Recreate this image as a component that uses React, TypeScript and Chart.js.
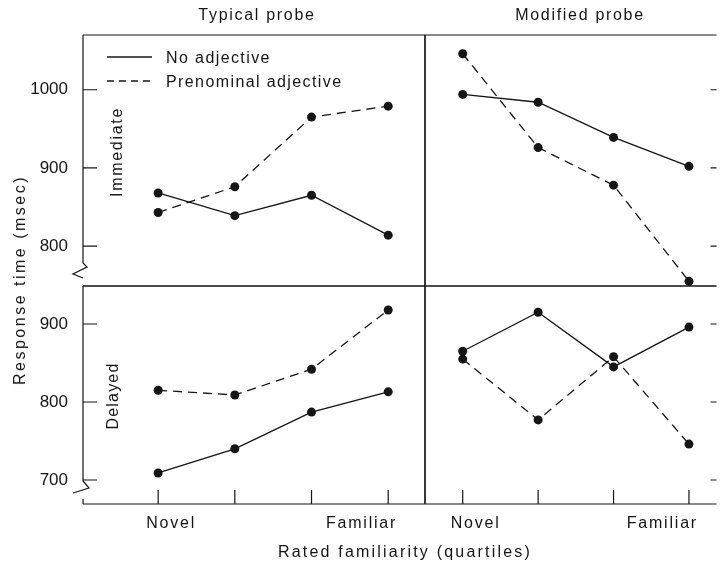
import React, { useEffect, useRef } from 'react';
import { Chart, registerables } from 'chart.js';

Chart.register(...registerables);

const W = 721;
const H = 563;

// ---- data ----
const quartiles = [0, 1, 2, 3];
const quartileLabels = ['Novel', '', '', 'Familiar'];
const seriesLabels = ['No adjective', 'Prenominal adjective'];
const panelTitles = ['Typical probe', 'Modified probe'];
const rowLabels = ['Immediate', 'Delayed'];
const yAxisTitle = 'Response time (msec)';
const xAxisTitle = 'Rated familiarity (quartiles)';
const immediateTicks = [800, 900, 1000];
const delayedTicks = [700, 800, 900];

const immediateTypicalNoAdj = [868, 839, 865, 814];
const immediateTypicalAdj = [843, 876, 965, 979];
const immediateModifiedNoAdj = [994, 984, 939, 902];
const immediateModifiedAdj = [1046, 926, 878, 755];
const delayedTypicalNoAdj = [709, 740, 787, 813];
const delayedTypicalAdj = [815, 809, 842, 918];
const delayedModifiedNoAdj = [865, 915, 845, 896];
const delayedModifiedAdj = [855, 777, 858, 746];

// ---- styling / layout ----
const FONT = '"Liberation Sans", Arial, sans-serif';
const INK = '#151515';
const DASH = [9, 6];

type Panel = {
  key: string;
  box: { left: number; top: number; right: number; bottom: number };
  xRange: [number, number];
  yRange: [number, number];
  ticks: number[];
  noAdj: number[];
  adj: number[];
  yLabels: boolean;
  side: 'left' | 'right';
  xAxis: boolean;
  legend: boolean;
  brk: 'upper' | 'lower' | null;
  rightBorder: boolean;
};

const panels: Panel[] = [
  {
    key: 'it', box: { left: 83, top: 35, right: 425, bottom: 286 },
    xRange: [-0.98, 3.48], yRange: [749, 1070], ticks: immediateTicks,
    noAdj: immediateTypicalNoAdj, adj: immediateTypicalAdj,
    yLabels: true, side: 'left', xAxis: false, legend: true, brk: 'upper', rightBorder: true,
  },
  {
    key: 'im', box: { left: 425, top: 35, right: 721, bottom: 286 },
    xRange: [-0.5, 3.365], yRange: [749, 1070], ticks: immediateTicks,
    noAdj: immediateModifiedNoAdj, adj: immediateModifiedAdj,
    yLabels: false, side: 'right', xAxis: false, legend: false, brk: null, rightBorder: false,
  },
  {
    key: 'dt', box: { left: 83, top: 286, right: 425, bottom: 504 },
    xRange: [-0.98, 3.48], yRange: [669.2, 948.7], ticks: delayedTicks,
    noAdj: delayedTypicalNoAdj, adj: delayedTypicalAdj,
    yLabels: true, side: 'left', xAxis: true, legend: false, brk: 'lower', rightBorder: true,
  },
  {
    key: 'dm', box: { left: 425, top: 286, right: 721, bottom: 504 },
    xRange: [-0.5, 3.365], yRange: [669.2, 948.7], ticks: delayedTicks,
    noAdj: delayedModifiedNoAdj, adj: delayedModifiedAdj,
    yLabels: false, side: 'right', xAxis: true, legend: false, brk: null, rightBorder: false,
  },
];

function makeFramePlugin(p: Panel) {
  return {
    id: 'frame_' + p.key,
    beforeDatasetsDraw(chart: any) {
      const { ctx, chartArea: a, scales } = chart;
      ctx.save();
      ctx.strokeStyle = INK;
      ctx.lineWidth = 1.2;
      ctx.beginPath();
      ctx.moveTo(a.left, a.top);
      ctx.lineTo(a.right, a.top);
      ctx.moveTo(a.left, a.bottom);
      ctx.lineTo(a.right, a.bottom);
      if (p.rightBorder) {
        ctx.moveTo(a.right, a.top);
        ctx.lineTo(a.right, a.bottom);
      }
      // left border, possibly with a scale-break zigzag
      if (p.brk === 'upper') {
        ctx.moveTo(a.left, a.top);
        ctx.lineTo(a.left, a.bottom - 23);
        ctx.lineTo(a.left + 4, a.bottom - 19);
        ctx.lineTo(a.left - 10, a.bottom - 12);
        ctx.lineTo(a.left, a.bottom - 8);
      } else if (p.brk === 'lower') {
        ctx.moveTo(a.left, a.top);
        ctx.lineTo(a.left, a.bottom - 23);
        ctx.lineTo(a.left + 6, a.bottom - 16);
        ctx.lineTo(a.left - 10, a.bottom - 11);
        ctx.moveTo(a.left, a.bottom - 5);
        ctx.lineTo(a.left, a.bottom);
      } else {
        ctx.moveTo(a.left, a.top);
        ctx.lineTo(a.left, a.bottom);
      }
      ctx.stroke();

      // inward tick marks
      ctx.beginPath();
      const ys = scales.y;
      for (const v of p.ticks) {
        const py = ys.getPixelForValue(v);
        if (p.side === 'left') {
          ctx.moveTo(a.left, py);
          ctx.lineTo(a.left + 14, py);
        } else {
          ctx.moveTo(a.right, py);
          ctx.lineTo(a.right - 6, py);
        }
      }
      if (p.xAxis) {
        for (const q of quartiles) {
          const px = scales.x.getPixelForValue(q);
          ctx.moveTo(px, a.bottom);
          ctx.lineTo(px, a.bottom - 14);
        }
      }
      ctx.stroke();
      ctx.restore();
    },
    afterDraw(chart: any) {
      const { ctx, chartArea: a, scales } = chart;
      ctx.save();
      ctx.fillStyle = INK;
      ctx.font = `16px ${FONT}`;
      (ctx as any).letterSpacing = '1.8px';
      ctx.textBaseline = 'alphabetic';
      if (p.xAxis) {
        quartiles.forEach((q, i) => {
          const label = quartileLabels[i];
          if (!label) return;
          const px = scales.x.getPixelForValue(q);
          if (i === 0) {
            ctx.textAlign = 'left';
            ctx.fillText(label, px - 12, a.bottom + 24);
          } else {
            ctx.textAlign = 'right';
            ctx.fillText(label, px + 9, a.bottom + 24);
          }
        });
      }
      if (p.legend) {
        (ctx as any).letterSpacing = '1.4px';
        chart.data.datasets.forEach((ds: any, i: number) => {
          const ly = a.top + 22 + i * 24;
          ctx.beginPath();
          ctx.strokeStyle = INK;
          ctx.lineWidth = 1.3;
          ctx.setLineDash(i === 0 ? [] : [7, 5]);
          ctx.moveTo(a.left + 24, ly);
          ctx.lineTo(a.left + 69, ly);
          ctx.stroke();
          ctx.setLineDash([]);
          ctx.textAlign = 'left';
          ctx.fillText(ds.label, a.left + 83, ly + 6);
        });
      }
      ctx.restore();
    },
  };
}

function PanelChart({ p }: { p: Panel }) {
  const ref = useRef<HTMLCanvasElement>(null);
  useEffect(() => {
    const mk = (vals: number[]) => quartiles.map((q, i) => ({ x: q, y: vals[i] }));
    const axisWidth = p.yLabels ? p.box.left : 0;
    const chart = new Chart(ref.current as HTMLCanvasElement, {
      type: 'line',
      data: {
        datasets: [
          {
            label: seriesLabels[0], data: mk(p.noAdj),
            borderColor: INK, borderWidth: 1.3, pointRadius: 4.5,
            pointBackgroundColor: INK, pointBorderColor: INK, pointBorderWidth: 0,
            tension: 0, clip: false as any,
          },
          {
            label: seriesLabels[1], data: mk(p.adj),
            borderColor: INK, borderWidth: 1.3, borderDash: DASH, pointRadius: 4.5,
            pointBackgroundColor: INK, pointBorderColor: INK, pointBorderWidth: 0,
            tension: 0, clip: false as any,
          },
        ],
      },
      options: {
        responsive: false,
        devicePixelRatio: 1,
        animation: false,
        events: [],
        layout: {
          padding: {
            left: p.box.left - axisWidth, top: p.box.top,
            right: W - p.box.right, bottom: H - p.box.bottom,
          },
        },
        plugins: { legend: { display: false }, tooltip: { enabled: false } },
        scales: {
          x: { type: 'linear', display: false, min: p.xRange[0], max: p.xRange[1] },
          y: {
            type: 'linear', display: p.yLabels, min: p.yRange[0], max: p.yRange[1],
            afterFit: (s: any) => { s.width = axisWidth; },
            afterBuildTicks: (s: any) => { s.ticks = p.ticks.map((v) => ({ value: v })); },
            grid: { display: false, drawTicks: false },
            border: { display: false },
            ticks: {
              padding: 15, color: INK, font: { family: FONT, size: 17 },
              callback: (v: number) => String(v),
            },
          },
        },
      },
      plugins: [makeFramePlugin(p)],
    } as any);
    return () => chart.destroy();
  }, [p]);
  return (
    <canvas
      ref={ref}
      width={W}
      height={H}
      style={{ position: 'absolute', left: 0, top: 0, width: W, height: H }}
    />
  );
}

function Label({ text, x, y, rotate = false, spacing = 2 }: { text: string; x: number; y: number; rotate?: boolean; spacing?: number }) {
  return (
    <div
      style={{
        position: 'absolute', left: x, top: y,
        transform: `translate(-50%, -50%)${rotate ? ' rotate(-90deg)' : ''}`,
        font: `16px ${FONT}`, lineHeight: '16px', letterSpacing: `${spacing}px`,
        color: INK, whiteSpace: 'nowrap',
      }}
    >
      {text}
    </div>
  );
}

export default function App() {
  return (
    <div style={{ position: 'fixed', left: 0, top: 0, width: W, height: H, background: '#fff', overflow: 'hidden' }}>
      {panels.map((p) => (
        <PanelChart key={p.key} p={p} />
      ))}
      <Label text={panelTitles[0]} x={257} y={15} spacing={1.7} />
      <Label text={panelTitles[1]} x={580} y={15} spacing={1.7} />
      <Label text={yAxisTitle} x={20} y={280} rotate spacing={2.5} />
      <Label text={rowLabels[0]} x={117} y={152} rotate spacing={1.7} />
      <Label text={rowLabels[1]} x={113} y={396} rotate spacing={1.2} />
      <Label text={xAxisTitle} x={405} y={552} spacing={2.2} />
    </div>
  );
}
